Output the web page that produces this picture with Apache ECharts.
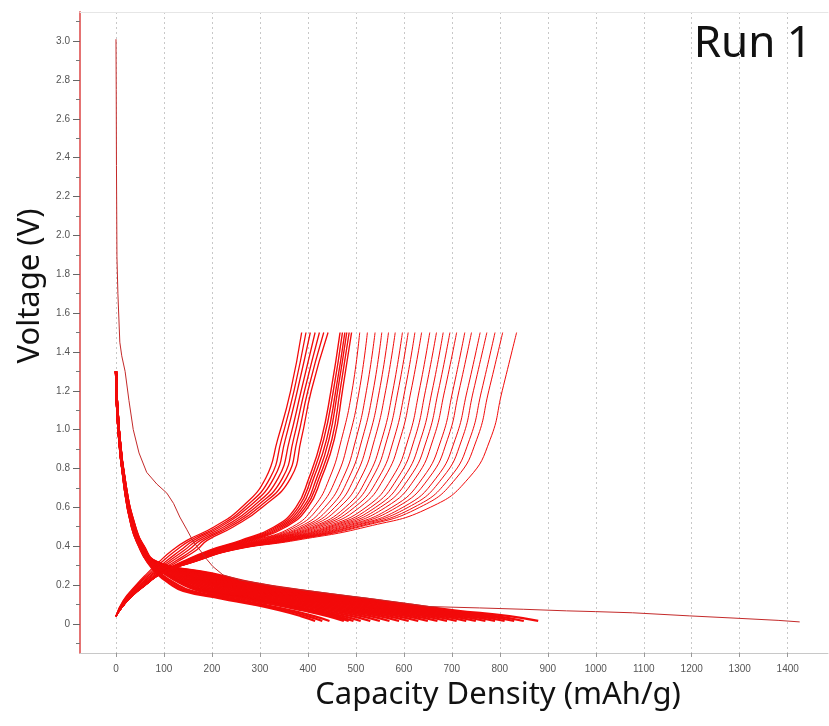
<!DOCTYPE html>
<html><head><meta charset="utf-8">
<script src="https://cdn.jsdelivr.net/npm/echarts@6/dist/echarts.min.js"></script>
<style>html,body{margin:0;padding:0;background:#fff}#c{width:829px;height:726px}</style>
</head><body><div id="c"></div>
<script>
// ---- tick labels ----
const xTicks = [0,100,200,300,400,500,600,700,800,900,1000,1100,1200,1300,1400];
const yTicks = [0,0.2,0.4,0.6,0.8,1.0,1.2,1.4,1.6,1.8,2.0,2.2,2.4,2.6,2.8,3.0];
const yMinorTicks = [-0.1,0.1,0.3,0.5,0.7,0.9,1.1,1.3,1.5,1.7,1.9,2.1,2.3,2.5,2.7,2.9,3.1];

// ---- first discharge (cycle 1) ----
const firstDischargeCap = [0,0.5,1,2,4,8,12,19,27,36,48,64,85,106,120,133,148,162,175,190,202,223,260,340,450,550,654,758,850,939,1000,1077,1196,1286,1380,1425];
const firstDischargeV   = [3.01,2.75,2.36,1.89,1.70,1.45,1.38,1.30,1.15,1.00,0.88,0.78,0.72,0.673,0.62,0.55,0.484,0.42,0.38,0.33,0.295,0.252,0.225,0.19,0.155,0.124,0.089,0.082,0.075,0.067,0.063,0.057,0.041,0.03,0.018,0.01];

// ---- charge curves: capacity (mAh/g) read at these voltage levels ----
const chargeLevels = [0.04,0.12,0.20,0.26,0.32,0.38,0.43,0.50,0.60,0.75,0.95,1.20,1.50];
const chargeLeftGroup = [
  [0,15,42,65,90,118,148,205,262,312,337,364,387],
  [0,16,44,69,96,126,155,212,269,321,345,371,396],
  [0,17,46,73,103,135,162,218,276,329,353,378,405],
  [0,19,49,77,109,143,169,225,284,338,362,386,415],
  [0,20,51,80,115,151,176,232,291,347,370,393,424],
  [0,21,53,84,122,160,183,238,298,355,378,400,433],
  [0,22,55,88,128,168,190,245,305,364,386,407,442]
];
const chargeDenseGroup = [
  [0,22,58,90,138,195,260,330,375,402,428,448,467],
  [0,22,59,91,140,199,265,335,380,407,433,453,472],
  [0,23,60,92,142,203,270,340,385,412,439,458,477],
  [0,23,60,93,144,207,275,345,390,418,444,462,481],
  [0,24,61,94,146,211,280,350,395,423,450,467,486],
  [0,24,62,95,148,215,285,355,400,428,455,472,491]
];
const chargeSpreadGroup = [
  [0,24,62,96,150,220,290,368,412,445,470,492,508],
  [0,24,62,96,151,221,294,375,423,459,485,507,524],
  [0,24,62,96,151,222,298,383,435,473,500,522,540],
  [0,24,62,96,152,223,302,390,446,485,513,536,554],
  [0,25,62,96,153,225,305,396,456,497,526,549,568],
  [0,25,62,96,153,226,309,403,466,510,539,562,582],
  [0,25,61,96,154,227,313,410,478,523,554,577,597],
  [0,25,61,96,155,228,316,416,487,534,565,588,609],
  [0,25,61,96,155,229,320,422,497,547,579,602,623],
  [0,25,61,96,156,230,323,429,508,559,592,615,637],
  [0,25,61,95,157,231,328,437,521,575,609,632,654],
  [0,25,61,95,157,232,332,444,531,587,622,645,668],
  [0,25,61,95,158,233,335,450,541,599,635,659,682],
  [0,25,61,95,159,234,339,457,551,611,648,672,696],
  [0,25,61,95,159,235,342,464,562,624,661,685,710],
  [0,25,60,95,160,237,347,472,575,639,678,702,727],
  [0,25,60,95,161,238,351,479,585,652,691,715,741],
  [0,25,60,95,161,239,355,487,598,667,707,732,759],
  [0,25,60,95,162,240,359,493,609,680,721,745,773],
  [0,25,60,95,163,242,363,502,621,695,737,762,790],
  [0,25,60,95,164,243,367,509,633,709,752,777,806],
  [0,25,60,95,165,245,375,523,655,735,780,805,835]
];

// ---- discharge curves (cycles 2..n): capacity read at these voltage levels ----
const dischargeLevels = [1.30,1.00,0.70,0.50,0.40,0.32,0.26,0.21,0.17,0.13,0.10,0.07,0.04,0.015];
const dischargeGroup = [
  [0,6,21,40,58,85,200,290,395,520,610,705,820,880],
  [0,6,21,40,57,84,193,278,378,501,589,681,792,850],
  [0,6,21,39,57,83,188,271,368,488,575,666,773,830],
  [0,6,21,39,56,82,183,263,357,475,561,650,754,810],
  [0,6,20,39,56,81,178,255,346,462,547,634,736,790],
  [0,6,20,38,56,80,173,247,335,449,533,619,717,770],
  [0,6,20,38,55,79,168,240,324,436,519,603,698,750],
  [0,6,20,38,55,79,163,232,313,423,505,587,680,730],
  [0,6,20,37,54,78,158,224,302,410,491,571,661,710],
  [0,6,20,37,54,77,153,216,291,397,477,556,642,690],
  [0,6,20,37,53,76,148,209,280,384,463,540,623,670],
  [0,6,20,37,53,75,143,201,269,372,449,524,605,650],
  [0,5,19,36,53,74,138,193,258,359,435,509,586,630],
  [0,5,19,36,52,73,133,185,247,346,421,493,567,610],
  [0,5,19,36,52,73,128,178,236,333,407,477,549,590],
  [0,5,19,35,51,72,123,170,225,320,393,462,530,570],
  [0,5,19,35,51,71,118,162,214,307,379,446,511,550],
  [0,5,19,35,50,70,113,155,203,294,365,430,492,530],
  [0,5,19,34,50,69,108,147,192,281,351,414,474,510],
  [0,5,19,34,50,68,105,141,184,272,341,403,460,495],
  [0,5,18,34,50,68,102,137,178,265,334,395,451,485],
  [0,5,18,34,49,68,100,133,173,259,327,387,441,475],
  [0,5,18,33,49,66,92,122,157,240,306,364,413,445],
  [0,5,18,33,48,66,89,116,148,230,295,352,399,430],
  [0,5,18,33,48,65,85,110,140,220,285,340,385,415]
];

// ---- build series ----
const RED = '#f20a0a';
function curveSeries(caps, levels, width) {
  return {
    type: 'line', showSymbol: false, symbol: 'none', silent: true,
    smooth: 0.5,
    lineStyle: { color: RED, width: width },
    data: caps.map((c, i) => [c, levels[i]])
  };
}
const series = [];
dischargeGroup.forEach(r => series.push(curveSeries(r, dischargeLevels, 2.2)));
chargeLeftGroup.forEach(r => series.push(curveSeries(r, chargeLevels, 1.3)));
chargeDenseGroup.forEach(r => series.push(curveSeries(r, chargeLevels, 1.4)));
chargeSpreadGroup.forEach(r => series.push(curveSeries(r, chargeLevels, 1)));
series.push({
  type: 'line', showSymbol: false, symbol: 'none', silent: true, smooth: false,
  lineStyle: { color: '#c42a2a', width: 1 },
  data: firstDischargeCap.map((c, i) => [c, firstDischargeV[i]])
});

const chart = echarts.init(document.getElementById('c'), null, { renderer: 'canvas' });
chart.setOption({
  animation: false,
  backgroundColor: '#fff',
  grid: { left: 80, right: 1, top: 12, bottom: 73, containLabel: false },
  xAxis: [{
    type: 'value', min: -75, max: 1484, position: 'bottom',
    axisLine: { show: true, onZero: false, lineStyle: { color: '#c8c8c8', width: 1 } },
    axisTick: { show: true, customValues: xTicks, length: 4, lineStyle: { color: '#999' } },
    axisLabel: { customValues: xTicks, margin: 11, fontSize: 10, color: '#555', fontFamily: 'Liberation Sans, Arial, sans-serif',
      formatter: v => String(Math.round(v)) },
    splitLine: { show: true, lineStyle: { color: '#c8c8c8', type: [2, 3], width: 1 } }
  }, {
    type: 'value', min: -75, max: 1484, position: 'top',
    axisLine: { show: true, onZero: false, lineStyle: { color: '#e6e6e6', width: 1 } },
    axisTick: { show: false }, axisLabel: { show: false }, splitLine: { show: false }
  }],
  yAxis: [{
    type: 'value', min: -0.15, max: 3.15, position: 'left',
    axisLine: { show: true, onZero: false, lineStyle: { color: '#e57373', width: 2 } },
    axisTick: { show: true, customValues: yTicks, length: 7, lineStyle: { color: '#666' } },
    axisLabel: { customValues: yTicks, margin: 10, fontSize: 10, color: '#555', fontFamily: 'Liberation Sans, Arial, sans-serif',
      formatter: v => (Math.abs(v) < 1e-9 ? '0' : v.toFixed(1)) },
    splitLine: { show: false }
  }, {
    type: 'value', min: -0.15, max: 3.15, position: 'left', offset: 0,
    axisLine: { show: false, onZero: false },
    axisTick: { show: true, customValues: yMinorTicks, length: 4, lineStyle: { color: '#777' } },
    axisLabel: { show: false }, splitLine: { show: false }
  }],
  graphic: [
    { type: 'text', x: 812, y: 44, style: { text: 'Run 1', font: '44px "Noto Sans", "Open Sans", sans-serif', fill: '#111', textAlign: 'right', textVerticalAlign: 'middle' } },
    { type: 'text', x: 30, y: 286, rotation: Math.PI / 2, style: { text: 'Voltage (V)', font: '31px "Noto Sans", "Open Sans", sans-serif', fill: '#111', textAlign: 'center', textVerticalAlign: 'middle' } },
    { type: 'text', x: 498, y: 695, style: { text: 'Capacity Density (mAh/g)', font: '31px "Noto Sans", "Open Sans", sans-serif', fill: '#111', textAlign: 'center', textVerticalAlign: 'middle' } }
  ],
  series: series
});
</script>
</body></html>
